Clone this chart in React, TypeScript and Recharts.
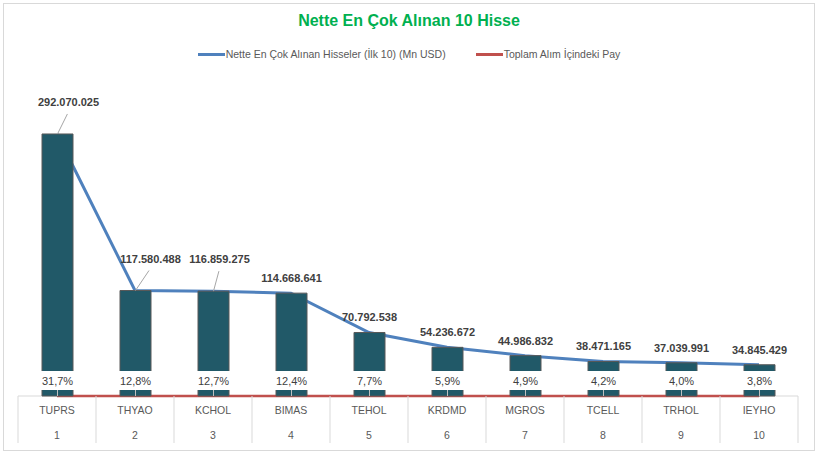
import React from "react";
import { Bar, ComposedChart, LabelList, Line, XAxis, YAxis } from "recharts";

const tickers = ["TUPRS", "THYAO", "KCHOL", "BIMAS", "TEHOL", "KRDMD", "MGROS", "TCELL", "TRHOL", "IEYHO"];
const ranks = [1, 2, 3, 4, 5, 6, 7, 8, 9, 10];
const netBuys = [292070025, 117580488, 116859275, 114668641, 70792538, 54236672, 44986832, 38471165, 37039991, 34845429];
const shares = [31.7, 12.8, 12.7, 12.4, 7.7, 5.9, 4.9, 4.2, 4.0, 3.8];

const data = tickers.map((ticker, i) => ({
  ticker,
  rank: ranks[i],
  value: netBuys[i],
  share: shares[i] / 100,
}));

const FONT = "'Liberation Sans', Arial, sans-serif";
const BASE_Y = 396;

const fmtNum = (v: number) => String(v).replace(/\B(?=(\d{3})+(?!\d))/g, ".");
const fmtPct = (v: number) => (v * 100).toFixed(1).replace(".", ",") + "%";

const ValueLabel = (props: any) => {
  const { x, y, width, value, index } = props;
  const cx = x + width / 2;
  // first three labels sit higher with a leader line, as in the original
  const raised = index < 3;
  const dx = raised ? [11, 15, 6][index] : 0;
  const ly = raised ? y - 28 : y - 11;
  return (
    <g>
      {raised && (
        <line x1={cx} y1={y} x2={cx + dx * 0.9} y2={ly + 8} stroke="#a6a6a6" strokeWidth={1} />
      )}
      <text x={cx + dx} y={ly} textAnchor="middle" fontFamily={FONT} fontSize={11} fontWeight="bold" fill="#404040">
        {fmtNum(value)}
      </text>
    </g>
  );
};

const ShareLabel = (props: any) => {
  const { x, width, value } = props;
  const cx = x + width / 2;
  const cy = BASE_Y - 16;
  return (
    <g>
      <line x1={cx} y1={cy + 9} x2={cx} y2={BASE_Y} stroke="#bfbfbf" strokeWidth={1} />
      <rect x={cx - 19} y={cy - 9} width={38} height={19} fill="#ffffff" />
      <text x={cx} y={cy + 4.5} textAnchor="middle" fontFamily={FONT} fontSize={11} fill="#404040">
        {fmtPct(value)}
      </text>
    </g>
  );
};

const CategoryTick = (props: any) => {
  const { x, y, payload, index } = props;
  const half = 39;
  return (
    <g>
      <line x1={x - half} y1={y} x2={x - half} y2={y + 47} stroke="#d9d9d9" />
      {index === tickers.length - 1 && (
        <line x1={x + half} y1={y} x2={x + half} y2={y + 47} stroke="#d9d9d9" />
      )}
      <text x={x} y={y + 18} textAnchor="middle" fontFamily={FONT} fontSize={10.5} fill="#595959">
        {payload.value}
      </text>
      <text x={x} y={y + 43} textAnchor="middle" fontFamily={FONT} fontSize={10.5} fill="#595959">
        {ranks[index]}
      </text>
    </g>
  );
};

const LegendItem = ({ color, label }: { color: string; label: string }) => (
  <div style={{ display: "flex", alignItems: "center" }}>
    <div style={{ width: 27, height: 3, background: color }} />
    <span style={{ fontFamily: FONT, fontSize: 10.5, color: "#595959", marginLeft: 1 }}>{label}</span>
  </div>
);

export default function App() {
  return (
    <div style={{ position: "fixed", left: 0, top: 0, width: 818, height: 453, background: "#fff" }}>
      <div
        style={{
          position: "absolute",
          left: 3,
          top: 3,
          width: 810,
          height: 446,
          border: "1px solid #d9d9d9",
        }}
      />
      <div
        style={{
          position: "absolute",
          top: 12,
          left: 0,
          width: 818,
          textAlign: "center",
          fontFamily: FONT,
          fontWeight: "bold",
          fontSize: 16,
          color: "#00B050",
        }}
      >
        Nette En Çok Alınan 10 Hisse
      </div>
      <div
        style={{
          position: "absolute",
          top: 48,
          left: 0,
          width: 818,
          display: "flex",
          justifyContent: "center",
          gap: 30,
        }}
      >
        <LegendItem color="#4F81BD" label="Nette En Çok Alınan Hisseler (İlk 10) (Mn USD)" />
        <LegendItem color="#C0504D" label="Toplam Alım İçindeki Pay" />
      </div>
      <div style={{ position: "absolute", left: 0, top: 0 }}>
        <ComposedChart width={818} height={453} data={data} margin={{ top: 82, right: 20, bottom: 10, left: 18 }}>
          <XAxis
            dataKey="ticker"
            interval={0}
            height={47}
            tickSize={0}
            tickMargin={0}
            tickLine={false}
            axisLine={{ stroke: "#d9d9d9" }}
            tick={<CategoryTick />}
            zIndex={200}
          />
          <YAxis hide domain={[0, 350000000]} />
          <Line
            type="linear"
            dataKey="value"
            stroke="#4F81BD"
            strokeWidth={3}
            dot={false}
            isAnimationActive={false}
            zIndex={250}
          />
          <Line
            type="linear"
            dataKey="share"
            stroke="#C0504D"
            strokeWidth={2.5}
            dot={false}
            isAnimationActive={false}
            zIndex={250}
          />
          <Bar dataKey="value" barSize={31} fill="#215968" stroke="#595959" strokeWidth={1} isAnimationActive={false}>
            <LabelList dataKey="value" content={<ValueLabel />} />
            <LabelList dataKey="share" content={<ShareLabel />} />
          </Bar>
        </ComposedChart>
      </div>
    </div>
  );
}
